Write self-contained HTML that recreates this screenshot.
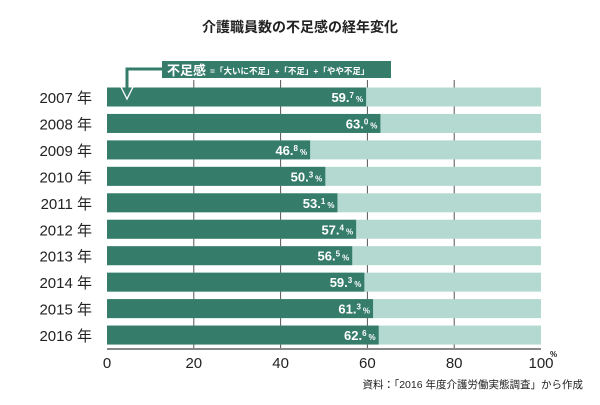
<!DOCTYPE html>
<html><head><meta charset="utf-8"><style>
body{margin:0;background:#fff;}
svg text{font-family:"Liberation Sans","Noto Sans CJK JP",sans-serif;}
</style></head><body>
<svg width="600" height="400" viewBox="0 0 600 400">
<text x="300" y="32" text-anchor="middle" font-size="14" font-weight="bold" fill="#222">介護職員数の不足感の経年変化</text>
<g id="grid"></g>
<g id="bars"></g>
<g id="axis"></g>
<g>
<rect x="162" y="61" width="229" height="17" fill="#367c6b"/>
<text x="167" y="75" font-size="13" font-weight="bold" fill="#fff">不足感</text>
<text x="210" y="74" font-size="8.5" font-weight="bold" fill="#fff">=「大いに不足」+「不足」+「やや不足」</text>
<polyline points="162,69 127,69 127,92" fill="none" stroke="#367c6b" stroke-width="3"/>
<polyline points="121,87 127,99 133,87" fill="none" stroke="#fff" stroke-width="1.3"/>
</g>
<text x="583" y="388" text-anchor="end" font-size="10.5" fill="#222">資料：「2016 年度介護労働実態調査」から作成</text>
<script>
const years=["2007","2008","2009","2010","2011","2012","2013","2014","2015","2016"];
const values=[59.7,63.0,46.8,50.3,53.1,57.4,56.5,59.3,61.3,62.6];
const ticks=[0,20,40,60,80,100];
const ns="http://www.w3.org/2000/svg";
const x0=107,x1=541,yTop=97,step=26.45,bh=19;
const xs=v=>x0+(x1-x0)*v/100;
const ys=i=>yTop+i*step;
function mk(t,a,p){const e=document.createElementNS(ns,t);for(const k in a)e.setAttribute(k,a[k]);p.appendChild(e);return e;}
const grid=document.getElementById('grid'),bars=document.getElementById('bars'),axis=document.getElementById('axis');
ticks.forEach(t=>{if(t>0&&t<100){const l=mk('line',{x1:xs(t),x2:xs(t),y1:80,y2:350,stroke:'#555','stroke-width':1},grid);

}
const tx=mk('text',{x:xs(t),y:368,'text-anchor':'middle','font-size':15,fill:'#222'},axis);tx.textContent=t;

});
const pc=mk('text',{x:xs(100)+9,y:357,'font-size':8,'font-weight':'bold',fill:'#222'},axis);pc.textContent='%';


const al=mk('line',{x1:x0,x2:x1,y1:349,y2:349,stroke:'#888','stroke-width':2},axis);


years.forEach((y,i)=>{const cy=ys(i);
const bg=mk('rect',{x:x0,y:cy-bh/2,width:x1-x0,height:bh,fill:'#b3d9d0'},bars);


const b=mk('rect',{x:x0,y:cy-bh/2,width:xs(values[i])-x0,height:bh,fill:'#367c6b'},bars);


const lb=mk('text',{x:92,y:cy+6,'text-anchor':'end','font-size':15,fill:'#222'},bars);lb.textContent=y+' 年';


const s=values[i].toFixed(1).split('.');
const vt=mk('text',{x:xs(values[i])-3,y:cy+5,'text-anchor':'end','font-size':13,'font-weight':'bold',fill:'#fff'},bars);


const a=mk('tspan',{},vt);a.textContent=s[0]+'.';
const c=mk('tspan',{'font-size':8,dy:-4},vt);c.textContent=s[1];
const d=mk('tspan',{'font-size':8,dy:4,dx:2},vt);d.textContent='%';
});
</script>
</svg>
</body></html>
